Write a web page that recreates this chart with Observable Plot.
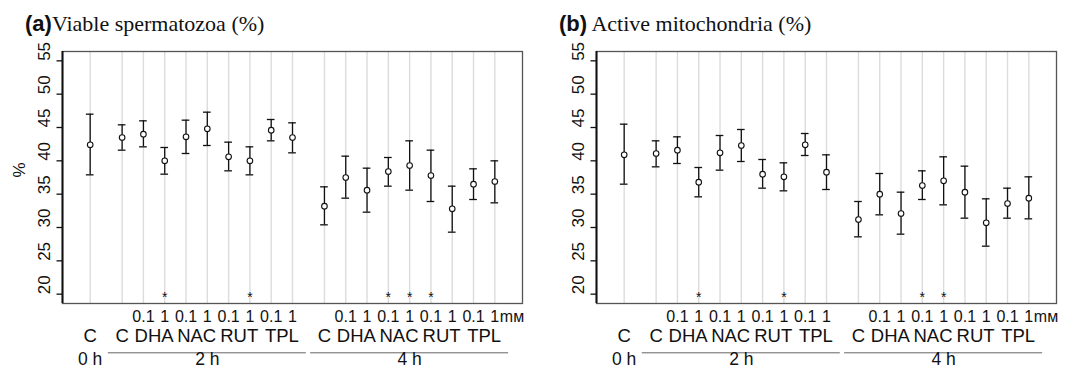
<!DOCTYPE html>
<html><head><meta charset="utf-8">
<script src="https://cdn.jsdelivr.net/npm/d3@7"></script>
<script src="https://cdn.jsdelivr.net/npm/@observablehq/plot@0.6"></script>
<style>
body{margin:0;background:#fff;font-family:"Liberation Sans",Arial,sans-serif;}
#wrap{display:flex;width:1068px;height:372px;overflow:hidden;}
.panel{width:534px;flex:none;}
.title{height:40px;line-height:47px;padding-left:25px;white-space:nowrap;font-family:"Liberation Serif","Times New Roman",serif;font-size:22px;color:#111;box-sizing:border-box;}
.title b{font-family:"Liberation Sans",Arial,sans-serif;font-weight:bold;font-size:22px;}
svg{display:block;}
</style></head><body>
<div id="wrap"><div class="panel" id="pa"></div><div class="panel" id="pb"></div></div>
<script>
// ---- categories ----
const times = ["0 h", "2 h", "4 h"];
const treatments = ["DHA", "NAC", "RUT", "TPL"];
const doses = ["0.1", "1"];
const doseUnit = "mᴍ";
const yTicks = [20, 25, 30, 35, 40, 45, 50, 55];

// ---- series: order = 0h C | 2h C, DHA0.1, DHA1, NAC0.1, NAC1, RUT0.1, RUT1, TPL0.1, TPL1 | 4h same ----
const viableMean = [42.4, 43.5, 44.0, 40.0, 43.6, 44.8, 40.6, 40.0, 44.6, 43.5, 33.2, 37.5, 35.6, 38.4, 39.3, 37.8, 32.8, 36.5, 36.9];
const viableLow  = [37.9, 41.6, 42.1, 38.0, 41.1, 42.3, 38.5, 37.9, 43.0, 41.2, 30.4, 34.4, 32.3, 36.2, 35.6, 33.9, 29.3, 34.2, 33.7];
const viableHigh = [47.0, 45.4, 46.0, 42.0, 46.1, 47.3, 42.8, 42.1, 46.2, 45.7, 36.1, 40.7, 38.9, 40.5, 43.0, 41.6, 36.2, 38.8, 40.0];
const viableSig  = [0, 0, 0, 1, 0, 0, 0, 1, 0, 0, 0, 0, 0, 1, 1, 1, 0, 0, 0];

const mitoMean = [40.9, 41.1, 41.6, 36.8, 41.2, 42.3, 38.0, 37.6, 42.4, 38.3, 31.2, 35.0, 32.1, 36.3, 37.0, 35.3, 30.7, 33.6, 34.4];
const mitoLow  = [36.5, 39.1, 39.6, 34.6, 38.6, 39.9, 35.9, 35.5, 40.8, 35.7, 28.6, 31.9, 29.0, 34.2, 33.4, 31.4, 27.2, 31.4, 31.3];
const mitoHigh = [45.5, 43.0, 43.6, 39.0, 43.8, 44.7, 40.2, 39.7, 44.1, 40.9, 33.9, 38.1, 35.3, 38.5, 40.6, 39.2, 34.3, 35.9, 37.6];
const mitoSig  = [0, 0, 0, 1, 0, 0, 0, 1, 0, 0, 0, 0, 0, 1, 1, 0, 0, 0, 0];

// ---- build condition list with slot positions (gap of 1.5 between time groups) ----
const conditions = [];
{
  let pos = 0;
  times.forEach((t, gi) => {
    if (gi > 0) pos += 0.5;
    const entries = [{treat: "C", dose: null}];
    if (gi > 0) treatments.forEach(tr => doses.forEach(d => entries.push({treat: tr, dose: d})));
    entries.forEach(e => { conditions.push({time: t, treat: e.treat, dose: e.dose, x: pos}); pos += 1; });
  });
}
const xs = conditions.map(c => c.x);
const xDomain = [xs[0] - 1.3, xs[xs.length - 1] + 1.3];
const yDomain = [18.6, 56.4];

const treatLabels = d3.flatGroup(conditions, d => d.time, d => d.treat)
  .map(([time, treat, arr]) => ({text: treat, x: d3.mean(arr, d => d.x)}));
const timeLabels = d3.flatGroup(conditions, d => d.time)
  .map(([time, arr]) => ({text: time, x: d3.mean(arr, d => d.x), x1: d3.min(arr, d => d.x) - 0.65, x2: d3.max(arr, d => d.x) + 0.65, n: arr.length}));
const doseLabels = conditions.filter(c => c.dose).map(c => ({text: c.dose, x: c.x}));

function panel(el, bold, title, mean, low, high, sig, showY) {
  const t = document.createElement("div");
  t.className = "title";
  t.innerHTML = `<b>${bold}</b>${title}`;
  el.appendChild(t);
  const rows = conditions.map((c, i) => ({x: c.x, mean: mean[i], low: low[i], high: high[i], sig: sig[i]}));
  const capW = 0.18;
  const ink = "#111";
  const plot = Plot.plot({
    width: 534, height: 332,
    marginLeft: 62, marginRight: 12, marginTop: 11, marginBottom: 69,
    x: {domain: xDomain, axis: null},
    y: {domain: yDomain, axis: null},
    style: {fontFamily: "'Liberation Sans', Arial, sans-serif", background: "white", color: ink, overflow: "visible"},
    marks: [
      Plot.ruleX(xs, {x: d => d, stroke: "#dcdcdc", strokeWidth: 1.4}),
      Plot.frame({stroke: "#555", strokeWidth: 1.3}),
      Plot.ruleX([xDomain[0]], {x: d => d, stroke: ink, strokeWidth: 2}),
      Plot.axisY({ticks: yTicks, tickSize: 5.5, fill: "none", stroke: ink, strokeWidth: 1.3}),
      Plot.text(yTicks, {y: d => d, text: d => String(d), frameAnchor: "left", dx: -18, rotate: -90, fontSize: 17, fill: ink}),
      showY ? Plot.text(["%"], {text: d => d, frameAnchor: "left", dx: -43, rotate: -90, fontSize: 17, fill: ink}) : null,
      Plot.ruleX(rows, {x: "x", y1: "low", y2: "high", stroke: ink, strokeWidth: 1.3}),
      Plot.ruleY(rows, {y: "high", x1: d => d.x - capW, x2: d => d.x + capW, stroke: ink, strokeWidth: 1.3}),
      Plot.ruleY(rows, {y: "low", x1: d => d.x - capW, x2: d => d.x + capW, stroke: ink, strokeWidth: 1.3}),
      Plot.dot(rows, {x: "x", y: "mean", r: 2.8, stroke: ink, strokeWidth: 1.1, fill: "white"}),
      Plot.text(rows.filter(d => d.sig), {x: "x", y: () => 20, text: () => "*", fontSize: 14, dy: 3.5, fill: ink}),
      Plot.text(doseLabels, {x: "x", text: "text", frameAnchor: "bottom", dy: 18.6, fontSize: 16, fill: ink}),
      Plot.text([doseUnit], {x: () => xs[xs.length - 1], text: d => d, frameAnchor: "bottom", dy: 18.6, dx: 5, textAnchor: "start", fontSize: 16, fill: ink}),
      Plot.text(treatLabels, {x: "x", text: "text", frameAnchor: "bottom", dy: 38.4, fontSize: 18.5, fill: ink}),
      Plot.ruleY(timeLabels.filter(d => d.n > 1), {y: () => yDomain[0], x1: "x1", x2: "x2", dy: 49.3, stroke: "#666", strokeWidth: 1}),
      Plot.text(timeLabels, {x: "x", text: "text", frameAnchor: "bottom", dy: 61.4, fontSize: 17.5, fill: ink})
    ]
  });
  el.appendChild(plot);
}

panel(document.getElementById("pa"), "(a)", "Viable spermatozoa (%)", viableMean, viableLow, viableHigh, viableSig, true);
panel(document.getElementById("pb"), "(b)", " Active mitochondria (%)", mitoMean, mitoLow, mitoHigh, mitoSig, false);
</script>
</body></html>
